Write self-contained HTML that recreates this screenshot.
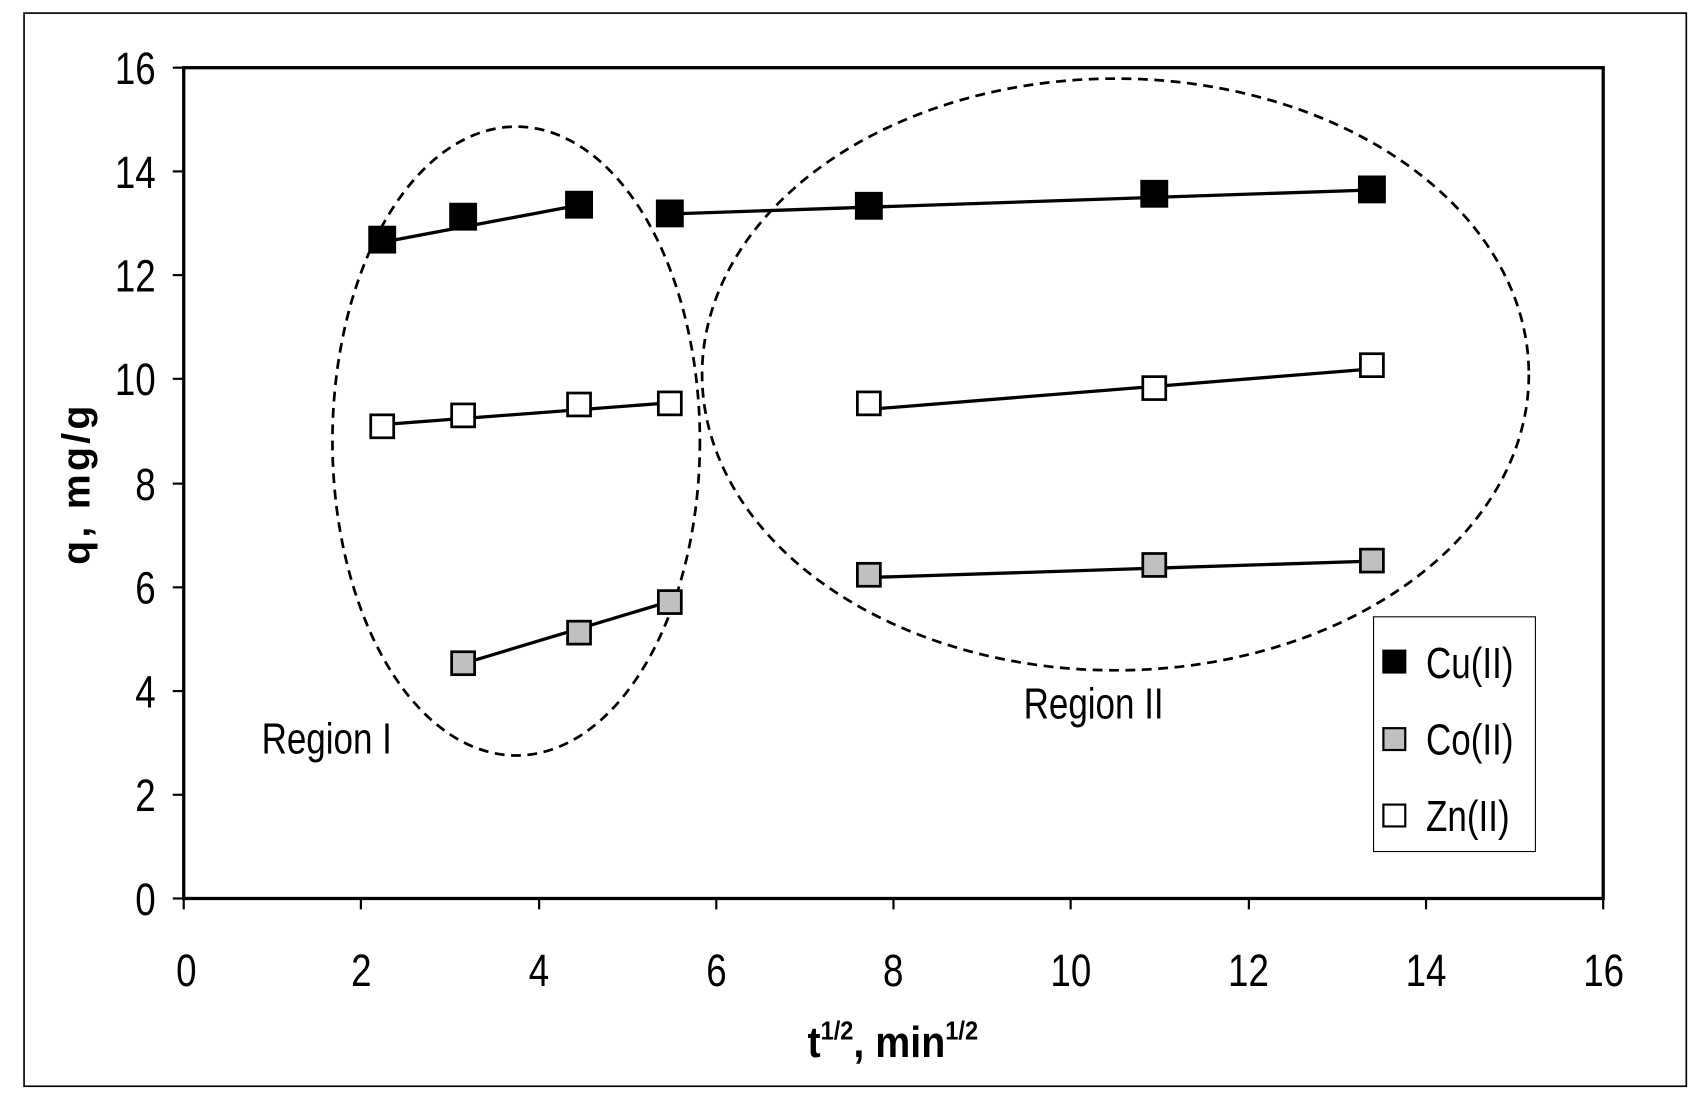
<!DOCTYPE html>
<html><head><style>html,body{margin:0;padding:0;background:#fff}svg{display:block}</style></head>
<body>
<svg width="1706" height="1107" viewBox="0 0 1560 1014" preserveAspectRatio="none" xmlns="http://www.w3.org/2000/svg" font-family="Liberation Sans, sans-serif">
<rect x="0" y="0" width="1560" height="1014" fill="#fff"/>
<rect x="22" y="12" width="1520" height="983" fill="none" stroke="#000" stroke-width="1.5"/>
<rect x="168" y="62" width="1298" height="761" fill="none" stroke="#000" stroke-width="3"/>
<g stroke="#000" stroke-width="2">
<line x1="158" y1="62" x2="168" y2="62"/><line x1="158" y1="157" x2="168" y2="157"/><line x1="158" y1="252" x2="168" y2="252"/><line x1="158" y1="347" x2="168" y2="347"/><line x1="158" y1="443" x2="168" y2="443"/><line x1="158" y1="538" x2="168" y2="538"/><line x1="158" y1="633" x2="168" y2="633"/><line x1="158" y1="728" x2="168" y2="728"/><line x1="158" y1="823" x2="168" y2="823"/>
<line x1="168" y1="823" x2="168" y2="833"/><line x1="330" y1="823" x2="330" y2="833"/><line x1="493" y1="823" x2="493" y2="833"/><line x1="655" y1="823" x2="655" y2="833"/><line x1="817" y1="823" x2="817" y2="833"/><line x1="979" y1="823" x2="979" y2="833"/><line x1="1142" y1="823" x2="1142" y2="833"/><line x1="1304" y1="823" x2="1304" y2="833"/><line x1="1466" y1="823" x2="1466" y2="833"/>
</g>
<g font-size="42" text-anchor="end" transform="scale(0.8,1)">
<text x="178" y="77">16</text><text x="178" y="172">14</text><text x="178" y="267">12</text><text x="178" y="362">10</text><text x="178" y="458">8</text><text x="178" y="553">6</text><text x="178" y="648">4</text><text x="178" y="743">2</text><text x="178" y="838">0</text>
</g>
<g font-size="42" text-anchor="middle" transform="scale(0.8,1)">
<text x="213" y="903">0</text><text x="413" y="903">2</text><text x="616" y="903">4</text><text x="819" y="903">6</text><text x="1021" y="903">8</text><text x="1224" y="903">10</text><text x="1427" y="903">12</text><text x="1630" y="903">14</text><text x="1833" y="903">16</text>
</g>
<text x="816" y="968" font-size="40" font-weight="bold" text-anchor="middle" transform="translate(82,0) scale(0.9,1)">t<tspan font-size="24" dy="-16">1/2</tspan><tspan dy="16">, min</tspan><tspan font-size="24" dy="-16">1/2</tspan></text>
<text transform="translate(82,443) rotate(-90)" font-size="36" font-weight="bold" text-anchor="middle" letter-spacing="3">q, mg/g</text>
<g fill="none" stroke="#000" stroke-width="2.5" stroke-dasharray="9,6">
<ellipse cx="472" cy="404" rx="168" ry="288"/>
<ellipse cx="1020" cy="343" rx="378" ry="271"/>
</g>
<g stroke="#000" stroke-width="3">
<line x1="349" y1="222" x2="529" y2="188"/><line x1="612" y1="196" x2="1254" y2="174"/>
<line x1="349" y1="389" x2="612" y2="369"/><line x1="794" y1="375" x2="1254" y2="338"/>
<line x1="423" y1="608" x2="612" y2="551"/><line x1="794" y1="529" x2="1254" y2="514"/>
</g>
<g stroke="#000" stroke-width="2.5">
<g fill="#000">
<rect x="338" y="208" width="23" height="23"/><rect x="412" y="187" width="23" height="23"/><rect x="518" y="176" width="23" height="23"/><rect x="601" y="184" width="23" height="23"/><rect x="783" y="177" width="23" height="23"/><rect x="1044" y="166" width="23" height="23"/><rect x="1243" y="162" width="23" height="23"/>
</g>
<g fill="#fff">
<rect x="339" y="380" width="21" height="21"/><rect x="413" y="370" width="21" height="21"/><rect x="519" y="360" width="21" height="21"/><rect x="602" y="359" width="21" height="21"/><rect x="784" y="359" width="21" height="21"/><rect x="1045" y="345" width="21" height="21"/><rect x="1244" y="324" width="21" height="21"/>
</g>
<g fill="#c0c0c0">
<rect x="413" y="597" width="21" height="21"/><rect x="519" y="569" width="21" height="21"/><rect x="602" y="541" width="21" height="21"/><rect x="784" y="516" width="21" height="21"/><rect x="1045" y="507" width="21" height="21"/><rect x="1244" y="503" width="21" height="21"/>
</g>
</g>
<g font-size="40" transform="scale(0.8,1)">
<text x="299" y="690">Region I</text>
<text x="1170" y="658">Region II</text>
</g>
<rect x="1256" y="565" width="148" height="215" fill="#fff" stroke="#000" stroke-width="1"/>
<g stroke="#000" stroke-width="2">
<rect x="1265" y="596" width="20" height="20" fill="#000"/>
<rect x="1265" y="667" width="20" height="20" fill="#c0c0c0"/>
<rect x="1265" y="737" width="20" height="20" fill="#fff"/>
</g>
<g font-size="40" transform="scale(0.8,1)">
<text x="1630" y="621">Cu(II)</text>
<text x="1630" y="691">Co(II)</text>
<text x="1630" y="761">Zn(II)</text>
</g>
</svg>
</body></html>
